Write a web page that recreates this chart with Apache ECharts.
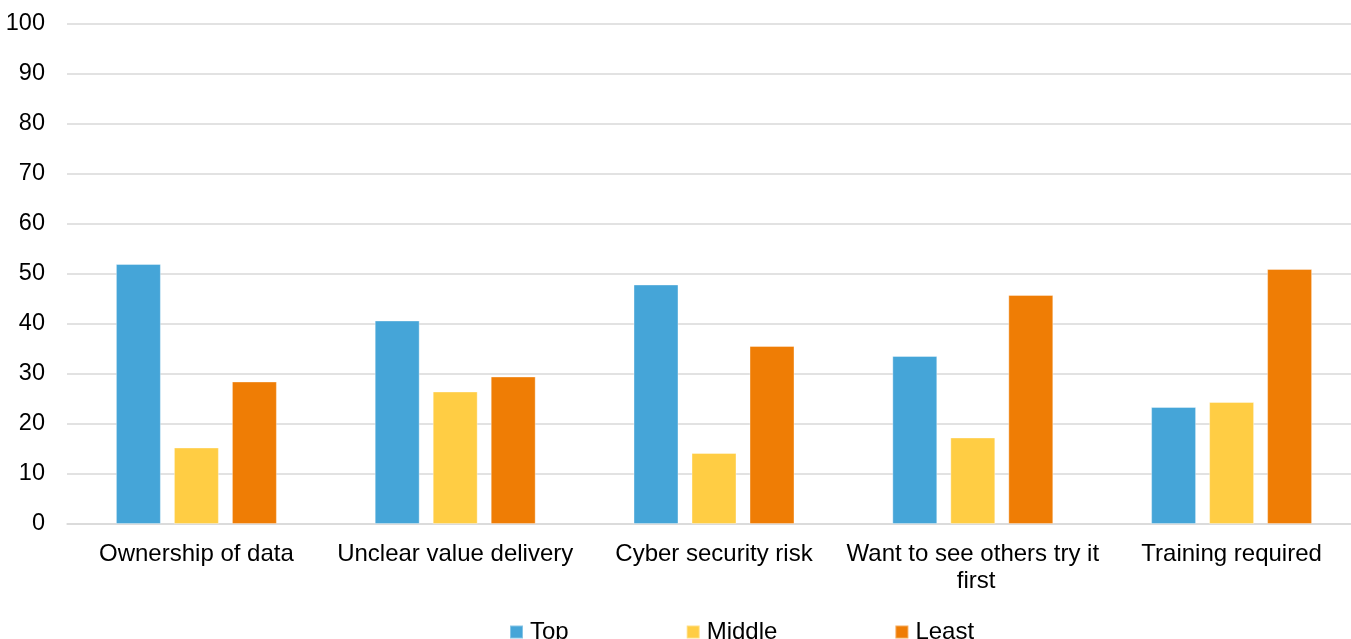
<!DOCTYPE html>
<html>
<head>
<meta charset="utf-8">
<script src="https://cdn.jsdelivr.net/npm/echarts@6/dist/echarts.min.js"></script>
<style>
    html, body { margin: 0; padding: 0; background: #fff; }
    #chart { width: 1351px; height: 639px; }
</style>
</head>
<body>
<div id="chart"></div>
<script>
const categories = ['Ownership of data', 'Unclear value delivery', 'Cyber security risk', 'Want to see others try it first', 'Training required']
const topValues = [52, 40.7, 47.9, 33.6, 23.4]
const middleValues = [15.3, 26.5, 14.2, 17.3, 24.4]
const leastValues = [28.5, 29.5, 35.6, 45.8, 51]
const yTicks = [0, 10, 20, 30, 40, 50, 60, 70, 80, 90, 100]

const FONT = '"Liberation Sans", Arial, sans-serif'

window.addEventListener('DOMContentLoaded', () => {
    const chart = echarts.init(document.getElementById('chart'))

    const makeSeries = (name, data, color) => {
        return {
            name: name,
            type: 'bar',
            data: data,
            barGap: '29%',
            barCategoryGap: '37.8%',
            itemStyle: {
                color: color,
                borderColor: 'rgba(255,255,255,0.35)',
                borderWidth: 1
            }
        }
    }

    // plot area runs past the right edge of the picture
    chart.setOption({
        animation: false,
        textStyle: { fontFamily: FONT },
        grid: {
            left: 67,
            width: 1294,
            top: 24,
            bottom: 115,
            outerBoundsMode: 'none'
        },
        legend: {
            top: 620,
            left: 509,
            padding: 0,
            itemWidth: 13,
            itemHeight: 13,
            itemGap: 117,
            icon: 'rect',
            textStyle: {
                fontFamily: FONT,
                fontSize: 24,
                color: '#000',
                padding: [0, 0, 0, 2]
            },
            data: ['Top', 'Middle', 'Least']
        },
        xAxis: {
            type: 'category',
            data: categories,
            axisLine: { lineStyle: { color: '#d9d9d9', width: 1.5 } },
            axisTick: { show: false },
            axisLabel: {
                color: '#000',
                fontSize: 24,
                fontFamily: FONT,
                margin: 17,
                lineHeight: 27,
                width: 258,
                overflow: 'break',
                interval: 0
            }
        },
        yAxis: {
            type: 'value',
            min: yTicks[0],
            max: yTicks[yTicks.length - 1],
            interval: 10,
            axisLine: { show: false },
            axisTick: { show: false },
            axisLabel: {
                color: '#000',
                fontSize: 23.5,
                fontFamily: FONT,
                margin: 22
            },
            splitLine: { lineStyle: { color: '#d9d9d9', width: 1.5 } }
        },
        series: [
            makeSeries('Top', topValues, '#45a5d8'),
            makeSeries('Middle', middleValues, '#ffcd44'),
            makeSeries('Least', leastValues, '#ef7d05')
        ]
    })
})
</script>
</body>
</html>
